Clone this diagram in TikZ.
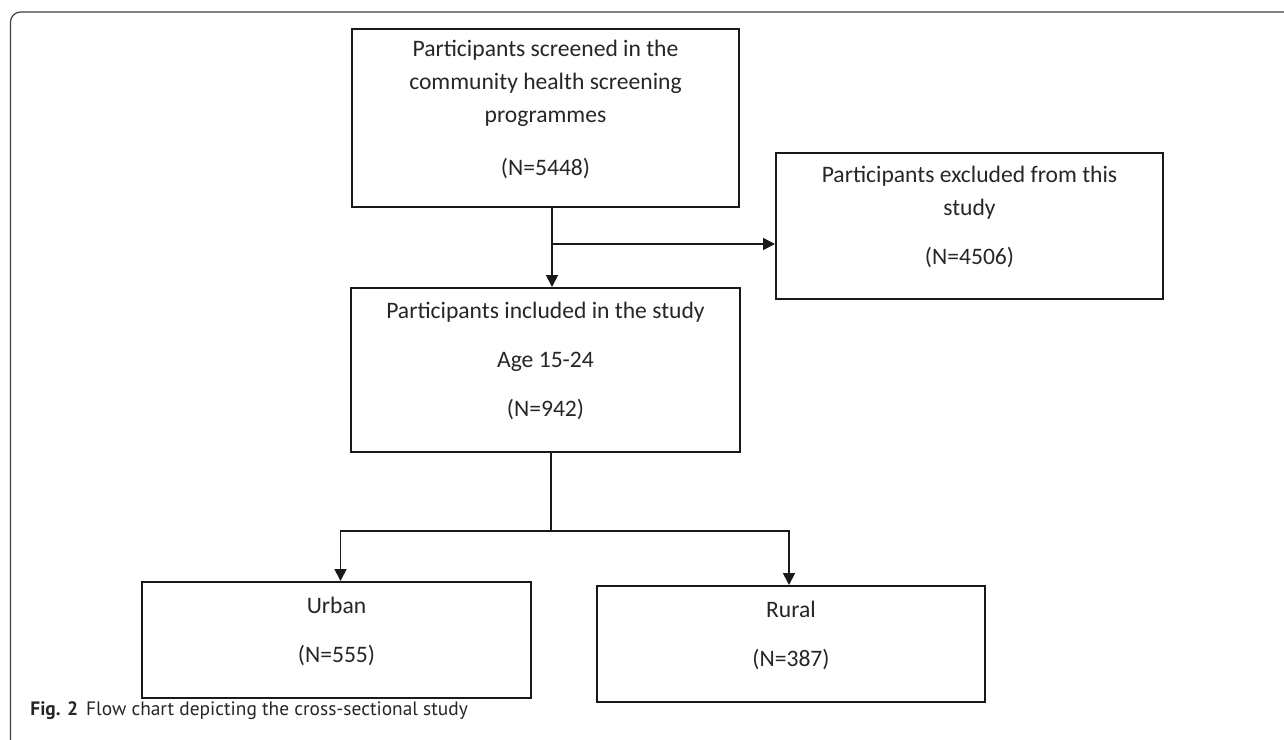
\documentclass[tikz,border=0pt]{standalone}
\usepackage{fontspec}
\setmainfont{Carlito}
\newfontfamily\capfont{PT Sans}
\usetikzlibrary{arrows.meta, positioning}

\begin{document}
\begin{tikzpicture}[
    x=0.5pt, y=-0.5pt,
    every node/.style={text=black!85},
    box/.style={rectangle, draw=black!90, line width=1pt, inner sep=0pt,
                align=center, text depth=10.5pt,
                font=\fontsize{11.8}{16.5}\selectfont},
    flow/.style={line width=0.9pt, draw=black!90},
    link/.style={flow, -{Triangle[length=6pt, width=6pt]}},
    frame/.style={draw=black!75, line width=0.6pt, rounded corners=5pt}
]
    \useasboundingbox (0,0) rectangle (1284,739);

    % --- outer frame ---
    \draw[frame] (1290,12) -- (10.5,12) -- (10.5,745);

    % --- boxes ---
    \node[box, minimum width=193.5pt, minimum height=89pt] (screen) at (545.5,118)
        {Participants screened in the\\community health screening\\programmes\\[10pt](N=5448)};
    \node[box, minimum width=193.5pt, minimum height=73pt] (excl) at (969.5,226)
        {Participants excluded from this\\study\\[8pt](N=4506)};
    \node[box, minimum width=194.5pt, minimum height=82pt] (incl) at (545.5,370)
        {Participants included in the study\\[8pt]Age 15-24\\[8pt](N=942)};
    \node[box, minimum width=194.5pt, minimum height=58pt] (urban) at (336.5,640)
        {Urban\\[8pt](N=555)};
    \node[box, minimum width=194pt, minimum height=58pt] (rural) at (791,644)
        {Rural\\[8pt](N=387)};

    % --- connectors ---
    \coordinate (fork) at (552,244);
    \coordinate (branch) at (551,531);
    \draw[link] (screen.south -| fork) -- (incl.north -| fork);
    \draw[link] (fork) -- (excl.west |- fork);
    \draw[flow] (incl.south -| branch) -- (branch);
    \draw[link] (branch) -| ([xshift=2pt]urban.north);
    \draw[link] (branch) -| ([xshift=-1pt]rural.north);

    % --- caption ---
    \node[anchor=west, inner sep=0pt, font=\capfont\fontsize{9.7}{12}\selectfont] (cap) at (30,711)
        {\textbf{Fig. 2}\hspace{4pt}Flow chart depicting the cross-sectional study};
\end{tikzpicture}
\end{document}
